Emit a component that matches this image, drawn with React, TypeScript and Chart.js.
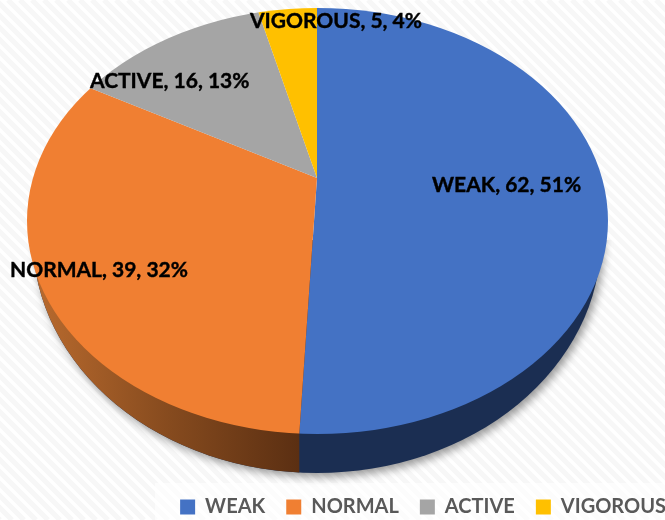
import React, { useEffect, useRef } from "react";
import { Chart, registerables } from "chart.js";

Chart.register(...registerables);

const categories = ["WEAK", "NORMAL", "ACTIVE", "VIGOROUS"];
const counts = [62, 39, 16, 5];
const percents = [51, 32, 13, 4];
const sliceColors = ["#4472C4", "#F07F32", "#A5A5A5", "#FFC000"];

// Label anchors (left edge, vertical centre)
const labelX = [432, 10, 90, 250];
const labelY = [185, 270, 81, 21];

const APEX = { x: 317, y: 178 };
const TOP_RX = 400;
const TOP_RY = 298;
const RIM = { x: 317.5, y: 221, rx: 290.5, ry: 213 };
const BASE = { x: 317, y: 239, rx: 284, ry: 234 };
const FONT = "Lato, 'Open Sans', sans-serif";

const rimSplitX = (angle: number) => {
  // where the slice edge leaving the apex meets the visible rim
  const dx = Math.cos(angle) * TOP_RX;
  const dy = Math.sin(angle) * TOP_RY;
  const ox = (APEX.x - RIM.x) / RIM.rx;
  const oy = (APEX.y - RIM.y) / RIM.ry;
  const ux = dx / RIM.rx;
  const uy = dy / RIM.ry;
  const a = ux * ux + uy * uy;
  const b = 2 * (ox * ux + oy * uy);
  const c = ox * ox + oy * oy - 1;
  const t = (-b + Math.sqrt(b * b - 4 * a * c)) / (2 * a);
  return APEX.x + dx * t;
};

const piePerspective = {
  id: "piePerspective",
  afterLayout(chart: any) {
    const lg = chart.legend;
    lg.left += 22;
    lg.right += 22;
    lg.top += 7;
    lg.bottom += 7;
  },
  beforeDraw(chart: any) {
    const { ctx, width, height } = chart;
    ctx.save();
    ctx.fillStyle = "#ffffff";
    ctx.fillRect(0, 0, width, height);
    ctx.strokeStyle = "#f7f7f7";
    ctx.lineWidth = 5;
    ctx.beginPath();
    for (let c = -height; c < width + height; c += 12) {
      ctx.moveTo(c, 0);
      ctx.lineTo(c + height, height);
    }
    ctx.stroke();
    ctx.fillStyle = "rgba(255,255,255,0.6)";
    ctx.fillRect(155, 483, width - 155, height - 483);
    ctx.restore();
  },
  beforeDatasetsDraw(chart: any) {
    const { ctx, width } = chart;
    const arc = chart.getDatasetMeta(0).data[0];
    const split = rimSplitX(arc.endAngle);

    // side wall
    ctx.save();
    ctx.shadowColor = "rgba(0,0,0,0.4)";
    ctx.shadowBlur = 9;
    ctx.shadowOffsetX = 3;
    ctx.shadowOffsetY = 4;
    ctx.fillStyle = "#1B2E52";
    ctx.save();
    ctx.beginPath();
    ctx.rect(0, 240, width, 300);
    ctx.clip();
    ctx.beginPath();
    ctx.ellipse(BASE.x, BASE.y, BASE.rx, BASE.ry, 0, 0, Math.PI * 2);
    ctx.fill();
    ctx.restore();
    ctx.shadowColor = "transparent";
    ctx.beginPath();
    ctx.rect(0, 240, split, 300);
    ctx.clip();
    ctx.beginPath();
    ctx.ellipse(BASE.x, BASE.y, BASE.rx, BASE.ry, 0, 0, Math.PI * 2);
    const g = ctx.createLinearGradient(45, 0, split, 0);
    g.addColorStop(0, "#B5682D");
    g.addColorStop(0.5, "#854A1E");
    g.addColorStop(1, "#5B2F12");
    ctx.fillStyle = g;
    ctx.fill();
    ctx.restore();

    // top face: the library's arcs, stretched about the apex and cut by the rim
    const cx = arc.x;
    const cy = arc.y;
    const r = arc.outerRadius;
    ctx.save();
    ctx.beginPath();
    ctx.ellipse(RIM.x, RIM.y, RIM.rx, RIM.ry, 0, 0, Math.PI * 2);
    ctx.clip();
    ctx.translate(APEX.x, APEX.y);
    ctx.scale(TOP_RX / r, TOP_RY / r);
    ctx.translate(-cx, -cy);
  },
  afterDatasetsDraw(chart: any) {
    const { ctx } = chart;
    ctx.restore();
    ctx.save();
    ctx.font = `bold 21px ${FONT}`;
    ctx.fillStyle = "#000000";
    ctx.strokeStyle = "#000000";
    ctx.lineWidth = 0.4;
    ctx.textAlign = "left";
    ctx.textBaseline = "middle";
    categories.forEach((name, i) => {
      const text = `${name}, ${counts[i]}, ${percents[i]}%`;
      ctx.fillText(text, labelX[i], labelY[i]);
      ctx.strokeText(text, labelX[i], labelY[i]);
    });
    ctx.restore();
  },
};

export default function App() {
  const ref = useRef<HTMLCanvasElement>(null);
  useEffect(() => {
    const chart = new Chart(ref.current!, {
      type: "pie",
      data: {
        labels: categories,
        datasets: [
          {
            data: counts,
            backgroundColor: sliceColors,
            borderWidth: 0,
            clip: false,
          } as any,
        ],
      },
      options: {
        animation: false,
        responsive: false,
        plugins: {
          tooltip: { enabled: false },
          legend: {
            position: "bottom",
            align: "end",
            labels: {
              boxWidth: 15,
              boxHeight: 15,
              padding: 21,
              color: "#595959",
              font: { family: FONT, size: 20, weight: "bold" },
            },
          },
        },
      },
      plugins: [piePerspective],
    } as any);
    return () => chart.destroy();
  }, []);
  return (
    <canvas
      ref={ref}
      width={665}
      height={520}
      style={{ position: "fixed", left: 0, top: 0, width: 665, height: 520 }}
    />
  );
}
